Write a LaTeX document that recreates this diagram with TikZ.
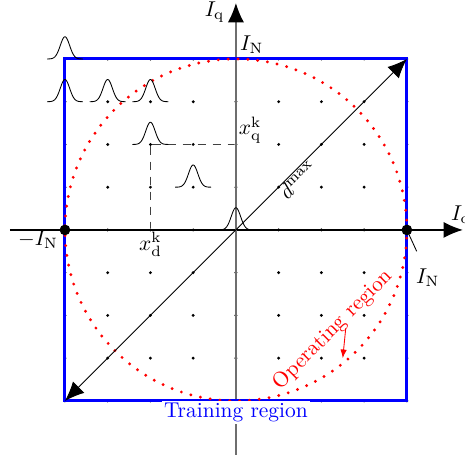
\documentclass[tikz,border=0pt]{standalone}
\usepackage{tikz}
\usetikzlibrary{arrows.meta, positioning, calc}
\usepackage{xcolor}
\definecolor{trainblue}{RGB}{0, 0, 255}
\definecolor{operred}{RGB}{255, 0, 0}
\definecolor{axisgray}{RGB}{110, 110, 110}

\begin{document}
\begin{tikzpicture}[
    x=0.7cm, y=0.7cm,
    tip/.style={-{Latex[length=9pt, width=7.5pt]}},
    axis/.style={tip, semithick},
    gridpt/.style={circle, fill=black, inner sep=0pt, minimum size=1.5pt},
    bigpt/.style={circle, fill=black, inner sep=0pt, minimum size=5pt},
    bell/.style={thin},
    guide/.style={black!75, semithick, dash pattern=on 4pt off 3pt},
    region/.style={trainblue, line width=1.4pt},
    operating/.style={operred, line width=1.5pt, line cap=round, dash pattern=on 0pt off 4.6pt}
]
\useasboundingbox (-5.52,-5.36) rectangle (5.36,5.38);

% grid of sample points
\foreach \i in {-4,...,4}
  \foreach \j in {-4,...,4}
    \node[gridpt] (g\i\j) at (\i,\j) {};

% axes
\coordinate (xstart) at (-5.29,0);
\coordinate (xend) at (5.31,0);
\coordinate (ystart) at (0,-5.26);
\coordinate (yend) at (0,5.31);
\draw[axis] (xstart) -- (xend);
\draw[semithick, axisgray, -{Latex[length=9pt, width=7.5pt, black]}] (ystart) -- (yend);

% regions
\coordinate (ll) at (-4,-4);
\coordinate (ur) at (4,4);
\draw[region] (ll) rectangle (ur);
\draw[operating] (0,0) circle (4);

% max distance
\draw[thin, {Latex[length=9pt, width=7.5pt]}-{Latex[length=9pt, width=7.5pt]}] (ll) -- (ur);
\node[rotate=45] (dmax) at (1.45,1.17) {$d^{\mathrm{max}}$};

% current point
\draw[guide] (g-22) -- (g02);
\draw[guide] (g-22) -- (g-20);
\node (xq) at (0.33,2.34) {$x_{\mathrm{q}}^{\mathrm{k}}$};
\node (xd) at (-2.0,-0.33) {$x_{\mathrm{d}}^{\mathrm{k}}$};

% gaussians
\foreach \i/\j in {-4/4, -4/3, -3/3, -2/3, -2/2, -1/1, 0/0}
  \draw[bell, shift={(\i,\j)}] plot[domain=-0.42:0.42, samples=50, smooth]
    (\x, {0.52*exp(-(\x*\x)/(2*0.012))});

% limits
\node[bigpt] (lN) at (-4,0) {};
\node[bigpt] (rN) at (4,0) {};
\node (lNlab) at (-4.63,-0.23) {$-I_{\mathrm{N}}$};
\node (rNlab) at (4.49,-1.12) {$I_{\mathrm{N}}$};
\coordinate (rNend) at (4.23,-0.5);
\draw[thin] (rN.center) -- (rNend);
\node (tNlab) at (0.37,4.33) {$I_{\mathrm{N}}$};

% axis labels
\node (iq) at (-0.5,5.1) {$I_{\mathrm{q}}$};
\node (id) at (5.27,0.35) {$I_{\mathrm{d}}$};

% region labels
\node[trainblue, fill=white, inner sep=1pt] (train) at (0,-4.28) {Training region};
\node[operred, rotate=45] (oper) at (2.27,-2.34) {Operating region};
\coordinate (operpt) at (2.5,-3.0);
\draw[operred, -{Latex[length=4pt, width=3pt]}] (2.57,-2.3) -- (operpt);

\end{tikzpicture}
\end{document}
